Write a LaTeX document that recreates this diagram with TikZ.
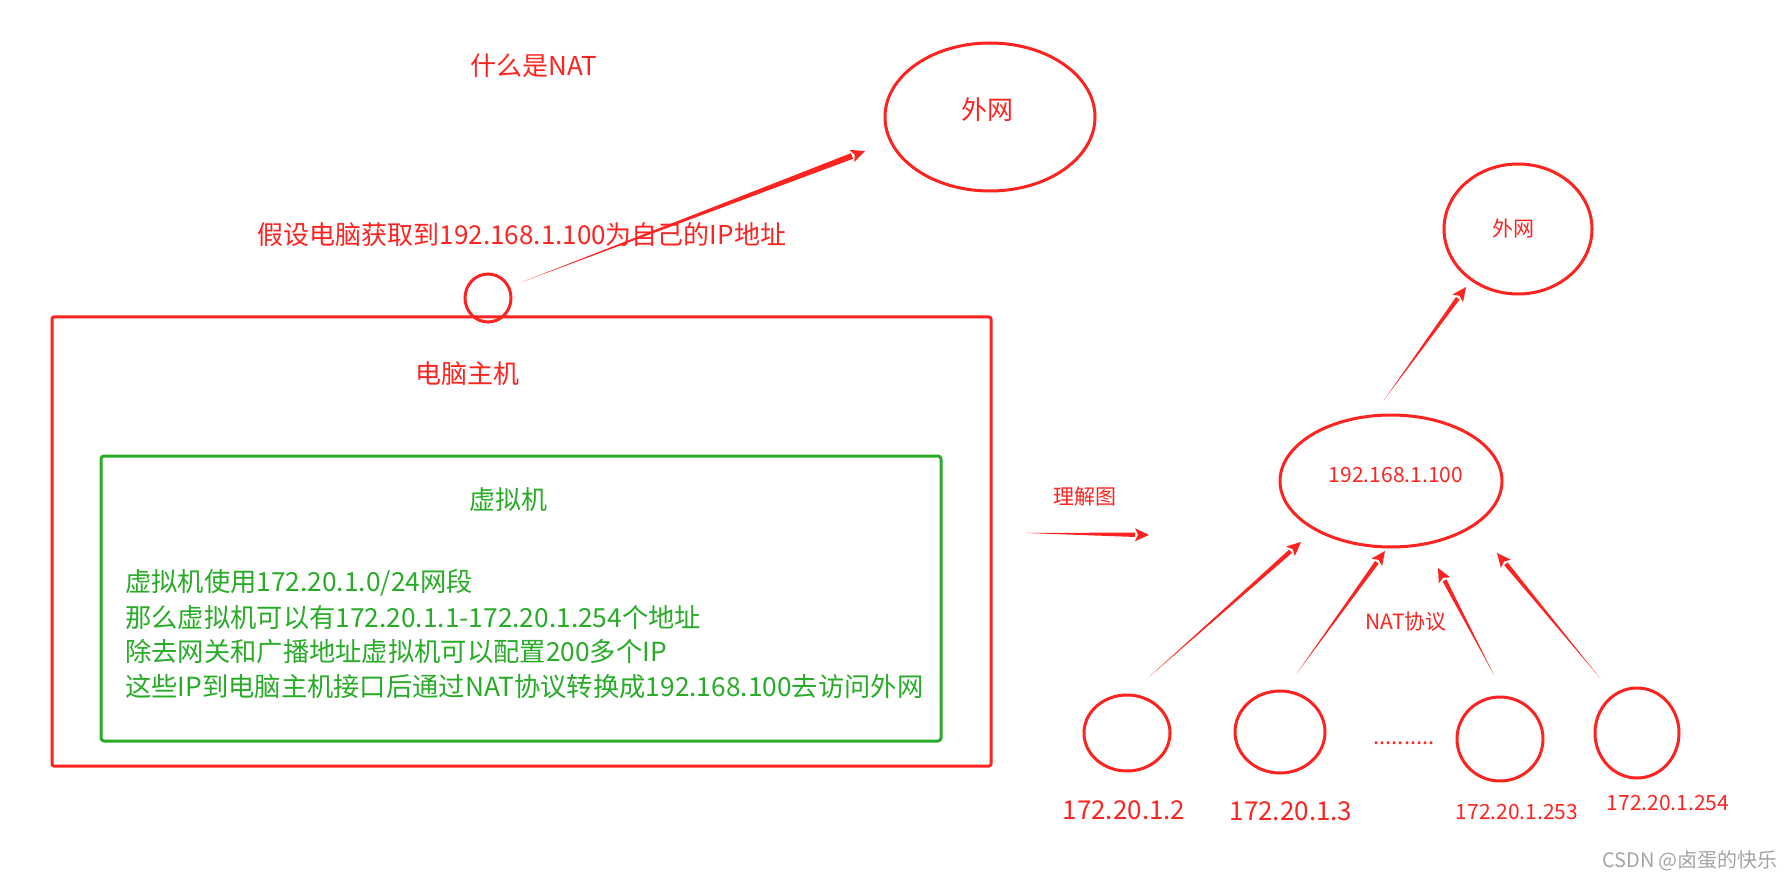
\documentclass[tikz,border=0pt]{standalone}
\usepackage{fontspec}
\newfontfamily\cjk{Noto Sans CJK SC}
\usetikzlibrary{shapes.geometric,arrows.meta,calc}
\definecolor{nred}{RGB}{252,36,32}
\definecolor{ngreen}{RGB}{40,172,40}
\definecolor{wm}{RGB}{165,165,165}
\tikzset{
  ell/.style={draw=nred,line width=3pt,ellipse,inner sep=0pt},
  rtext/.style={text=nred,inner sep=0pt,font=\cjk\fontsize{#1}{#1}\selectfont},
  gtext/.style={text=ngreen,inner sep=0pt,font=\cjk\fontsize{#1}{#1}\selectfont},
}
% tapered arrow: #1 end half-width, #2 start, #3 end
\newcommand\tarr[3][2.5]{%
  \coordinate (tb) at ($(#3)!14pt!(#2)$);
  \fill[nred] (#2) -- ($(tb)!#1pt!90:(#3)$) -- ($(tb)!#1pt!-90:(#3)$) -- cycle;
  \fill[nred] (#3) -- ($(tb)!6.5pt!90:(#3)$) -- ($(tb)!3pt!(#3)$) -- ($(tb)!6.5pt!-90:(#3)$) -- cycle;
}
\begin{document}
\begin{tikzpicture}[x=1pt,y=-1pt]
\useasboundingbox[fill=white] (0,0) rectangle (1788,882);

% left part
\node[rtext=26] (title) at (534,66) {什么是NAT};
\node[ell,minimum width=210pt,minimum height=148pt] (bigout) at (990,117) {};
\node[rtext=26] (bigoutt) at (987,110) {外网};
\node[rtext=26] (assume) at (522,235) {假设电脑获取到192.168.1.100为自己的IP地址};

\node[draw=nred,line width=3pt,rounded corners=2pt,minimum width=939pt,minimum height=449pt,inner sep=0pt] (host) at (521.5,541.5) {};
\node[ell,minimum width=46pt,minimum height=48pt] (port) at (488,298) {};
\node[rtext=26] (hostt) at (467,374) {电脑主机};

\node[draw=ngreen,line width=3pt,rounded corners=3pt,minimum width=840pt,minimum height=285pt,inner sep=0pt] (vm) at (521,598.5) {};
\node[gtext=26] (vmt) at (508,500) {虚拟机};
\node[gtext=26.3,anchor=west] (l1) at (125,583) {虚拟机使用172.20.1.0/24网段};
\node[gtext=26.3,anchor=west] (l2) at (125,618) {那么虚拟机可以有172.20.1.1-172.20.1.254个地址};
\node[gtext=26.3,anchor=west] (l3) at (125,652) {除去网关和广播地址虚拟机可以配置200多个IP};
\node[gtext=26.3,anchor=west] (l4) at (125,687) {这些IP到电脑主机接口后通过NAT协议转换成192.168.100去访问外网};

\coordinate (a1s) at (522,282);
\coordinate (a1e) at (865,151);
\tarr[3]{a1s}{a1e}

% understanding diagram
\node[rtext=21] (und) at (1085,497) {理解图};
\coordinate (a2s) at (1026,533);
\coordinate (a2e) at (1149,535);
\tarr[2.2]{a2s}{a2e}

\node[ell,minimum width=222pt,minimum height=132pt] (gw) at (1391,481) {};
\node[rtext=21] (gwt) at (1396,475) {192.168.1.100};
\node[ell,minimum width=148pt,minimum height=130pt] (out2) at (1518,229) {};
\node[rtext=21] (out2t) at (1513,229) {外网};
\coordinate (a3s) at (1384,400);
\coordinate (a3e) at (1466,287);
\tarr[2.2]{a3s}{a3e}

\node[ell,minimum width=86pt,minimum height=76pt] (c1) at (1127,733) {};
\node[ell,minimum width=90pt,minimum height=82pt] (c2) at (1280,732) {};
\node[ell,minimum width=86pt,minimum height=84pt] (c3) at (1500,739) {};
\node[ell,minimum width=84pt,minimum height=90pt] (c4) at (1637,733) {};
\node[rtext=22,anchor=base] (dots) at (1404,744) {..........};

\node[rtext=26] (c1t) at (1124,810) {172.20.1.2};
\node[rtext=26] (c2t) at (1291,811) {172.20.1.3};
\node[rtext=21] (c3t) at (1517,812) {172.20.1.253};
\node[rtext=21] (c4t) at (1668,803) {172.20.1.254};

\node[rtext=21] (nat) at (1406,622) {NAT协议};

\coordinate (b1s) at (1149,677);
\coordinate (b1e) at (1301,542);
\coordinate (b2s) at (1297,673);
\coordinate (b2e) at (1385,551);
\coordinate (b3s) at (1494,675);
\coordinate (b3e) at (1438,568);
\coordinate (b4s) at (1600,678);
\coordinate (b4e) at (1497,553);
\tarr[2.2]{b1s}{b1e}
\tarr[2.2]{b2s}{b2e}
\tarr[2.2]{b3s}{b3e}
\tarr[2.2]{b4s}{b4e}

\node[text=wm,inner sep=0pt,font=\cjk\fontsize{20}{20}\selectfont] (wmk) at (1690,861) {CSDN @卤蛋的快乐};
\end{tikzpicture}
\end{document}
